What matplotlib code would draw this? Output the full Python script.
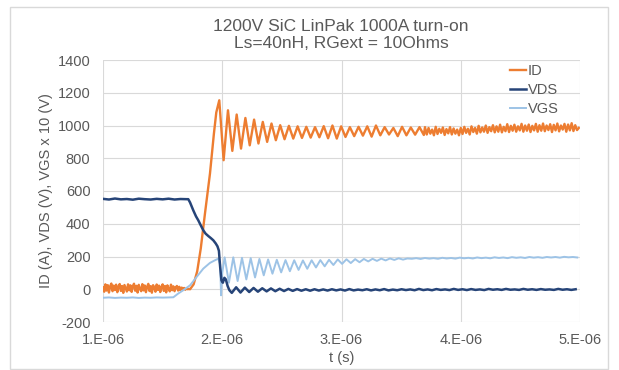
import numpy as np
import matplotlib.pyplot as plt
from matplotlib.patches import Rectangle

plt.rcParams['font.family'] = ['Liberation Sans', 'DejaVu Sans']
plt.rcParams['axes.unicode_minus'] = False

# time in microseconds, values
title = '1200V SiC LinPak 1000A turn-on\nLs=40nH, RGext = 10Ohms'
xticks = [1, 2, 3, 4, 5]
xtick_labels = ['1.E-06', '2.E-06', '3.E-06', '4.E-06', '5.E-06']
yticks = [-200, 0, 200, 400, 600, 800, 1000, 1200, 1400]
series_names = ['ID', 'VDS', 'VGS']

# ---- ID (A) ----
id_pre_t0, id_pre_dt = 1.00, 0.01
id_pre = [12, -15, 30, -8, 25, -20, 18, 35, -12, 22,
          -5, 28, -18, 15, 32, -10, 20, -22, 26, 5,
          -14, 30, -6, 24, -16, 18, 34, -9, 21, -20,
          27, 2, -12, 31, -7, 23, -18, 16, 33, -11,
          19, -21, 25, 8, -15, 29, -4, 22, -17, 14,
          30, -10, 20, -19, 24, 3, -13, 28, -6, 18,
          -12, 12, 20, -8, 15, -5, 10, 2, 8, -3,
          5, 0, 2]
id_rise_t = [1.73, 1.76, 1.79, 1.82, 1.855, 1.897, 1.93, 1.95]
id_rise = [0, 30, 110, 250, 462, 706, 950, 1080]
id_ring_t0, id_ring_dt = 1.975, 0.0365
id_ring = [1154, 788, 1093, 845, 1067, 859, 1046, 879, 1036, 890, 1022, 900, 1012, 910, 1002, 916,
           998, 920, 995, 924, 992, 926, 990, 928, 996, 922, 1000, 920, 995, 930, 990, 935,
           992, 938, 995, 932, 1000, 940, 990, 945, 985, 935, 992, 940, 988, 944, 990, 942]
id_tail_t0, id_tail_dt = 3.70, 0.015
id_tail = [990, 945, 985, 950, 975, 940, 992, 948, 980, 955, 988, 942, 978, 952, 990, 945, 982, 950, 975, 940,
           985, 948, 992, 955, 980, 945, 995, 960, 985, 950, 998, 958, 988, 962, 1000, 955, 990, 965, 1002, 958,
           995, 962, 1005, 958, 992, 965, 1008, 960, 998, 968, 1005, 962, 995, 970, 1010, 962, 1000, 968, 1006, 960,
           998, 970, 1010, 962, 1002, 968, 1012, 965, 1000, 972, 1008, 960, 1004, 970, 1012, 964, 1000, 975, 1010,
           962, 1006, 970, 1014, 966, 1002, 972, 985]

# ---- VDS (V) ----
vds_pre_t0, vds_pre_dt = 1.00, 0.05
vds_pre = [552, 548, 554, 549, 551, 547, 553, 550, 548, 552, 549, 553, 548, 551, 550]
vds_fall_t = [1.715, 1.73, 1.757, 1.78, 1.799, 1.82, 1.841, 1.86, 1.883, 1.905, 1.925,
              1.945, 1.96, 1.972, 1.982, 1.993, 2.005, 2.018, 2.03, 2.045, 2.06]
vds_fall = [550, 530, 482, 445, 421, 390, 360, 340, 325, 312, 299,
            280, 262, 235, 140, 55, 40, 70, 60, 20, -6]
vds_ring_t0, vds_ring_dt = 2.08, 0.0365
vds_ring = [-22, 12, -20, 10, -17, 8, -15, 6, -13, 5, -12, 3, -11, 2, -10, 1, -9, 0, -9, 0,
            -8, -1, -8, 0, -7, -1, -8, 1, -7, -2, -6, 0, -7, -1, -6, 1, -7, -2, -6, 0,
            -5, -1, -6, 2, -5, -1, -6, 1, -4, -1, -5, 2, -4, 0, -5, 1, -4, -1, -5, 2,
            -3, 0, -4, 2, -3, -1, -4, 2, -3, 0, -4, 1, -3, -1, -4, 2, -3, 0, -4, 0]

# ---- VGS x 10 (V) ----
vgs_pre_t0, vgs_pre_dt = 1.00, 0.05
vgs_pre = [-52, -50, -53, -51, -52, -50, -53, -51, -52, -50, -51, -50]
vgs_rise_t = [1.59, 1.631, 1.673, 1.73, 1.785, 1.841, 1.897, 1.939, 1.967, 1.983, 1.99, 2.0, 2.02]
vgs_rise = [-49, -26, -6, 24, 75, 126, 161, 177, 187, 150, -37, 100, 195]
vgs_ring_t0, vgs_ring_dt = 2.056, 0.0365
vgs_ring = [40, 195, 50, 192, 60, 190, 72, 185, 85, 182, 95, 180, 103, 178, 110, 177, 118, 176, 125, 177,
            133, 178, 140, 180, 148, 182, 155, 183, 160, 184, 165, 185, 170, 186, 173, 187, 176, 188,
            179, 189, 181, 188]
vgs_tail_t0, vgs_tail_dt = 3.59, 0.0365
vgs_tail = [186, 190, 185, 191, 187, 190, 186, 192, 188, 191, 187, 193, 189, 192, 188, 194, 190, 193, 189, 195,
            191, 194, 190, 196, 192, 195, 191, 197, 193, 196, 192, 197, 194, 197, 193, 198, 195, 197, 194]


def grid_t(t0, dt, vals):
    return t0 + dt * np.arange(len(vals))


id_t = np.concatenate([grid_t(id_pre_t0, id_pre_dt, id_pre), id_rise_t,
                       grid_t(id_ring_t0, id_ring_dt, id_ring), grid_t(id_tail_t0, id_tail_dt, id_tail)])
id_v = np.concatenate([id_pre, id_rise, id_ring, id_tail])
vds_t = np.concatenate([grid_t(vds_pre_t0, vds_pre_dt, vds_pre), vds_fall_t,
                        grid_t(vds_ring_t0, vds_ring_dt, vds_ring)])
vds_v = np.concatenate([vds_pre, vds_fall, vds_ring])
vgs_t = np.concatenate([grid_t(vgs_pre_t0, vgs_pre_dt, vgs_pre), vgs_rise_t,
                        grid_t(vgs_ring_t0, vgs_ring_dt, vgs_ring), grid_t(vgs_tail_t0, vgs_tail_dt, vgs_tail)])
vgs_v = np.concatenate([vgs_pre, vgs_rise, vgs_ring, vgs_tail])

txt = '#595959'
fig = plt.figure(figsize=(6.19, 3.70), dpi=100)
fig.patches.append(Rectangle((10 / 619, 1 / 370), 598 / 619, 362 / 370, transform=fig.transFigure,
                             fill=False, edgecolor='#d9d9d9', linewidth=1))
ax = fig.add_axes([103 / 619, 1 - 322 / 370, 477 / 619, 262 / 370])

l_id, = ax.plot(id_t, id_v, color='#ED7D31', linewidth=1.7, label=series_names[0])
l_vds, = ax.plot(vds_t, vds_v, color='#264478', linewidth=1.8, label=series_names[1])
l_vgs, = ax.plot(vgs_t, vgs_v, color='#9DC3E6', linewidth=1.4, label=series_names[2])
# VDS drawn on top of ID like in the original
l_vds.set_zorder(3)

ax.set_xlim(1, 5)
ax.set_ylim(-200, 1400)
ax.set_xticks(xticks)
ax.set_xticklabels(xtick_labels)
ax.set_yticks(yticks)
ax.grid(True, color='#d9d9d9', linewidth=0.8)
ax.set_axisbelow(True)
for s in ax.spines.values():
    s.set_visible(False)
ax.tick_params(length=0, colors=txt, labelsize=10.5)
ax.tick_params(axis='y', pad=9)
ax.tick_params(axis='x', pad=8)
ax.set_xlabel('t (s)', color=txt, fontsize=10.5, labelpad=3)
ax.set_ylabel('ID (A), VDS (V), VGS x 10 (V)', color=txt, fontsize=10.5, labelpad=3)
fig.text(341 / 619, 1 - 35 / 370, title, ha='center', va='center', color=txt, fontsize=12.5,
         linespacing=1.15)

leg = fig.legend(handles=[l_id, l_vds, l_vgs], loc='upper left',
                 bbox_to_anchor=(504 / 619, 1 - 58 / 370), frameon=False, fontsize=10.5,
                 handlelength=1.1, handletextpad=0.15, labelspacing=0.35, borderaxespad=0)
for t in leg.get_texts():
    t.set_color(txt)

fig.savefig('out.png', dpi=100)
